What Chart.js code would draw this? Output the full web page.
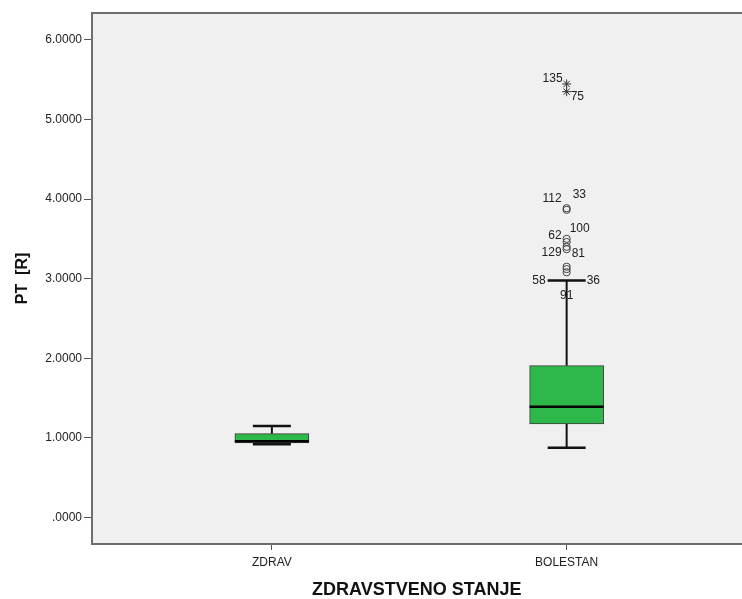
<!DOCTYPE html>
<html><head><meta charset="utf-8">
<script src="https://cdn.jsdelivr.net/npm/chart.js@4"></script>
<style>
html,body{margin:0;padding:0;background:#fff;overflow:hidden;width:742px;height:599px}
canvas{display:block}
</style>
</head><body><canvas id="c" width="747" height="599"></canvas>
<script>
// ---- data ----
const categories = ['ZDRAV', 'BOLESTAN'];
const whiskerLow  = [0.918, 0.875];
const q1          = [0.934, 1.173];
const median      = [0.955, 1.390];
const q3          = [1.051, 1.906];
const whiskerHigh = [1.148, 2.975];

const outlierIds      = ['58', '36', '91', '129', '81', '62', '100', '112', '33'];
const outlierCategory = [1, 1, 1, 1, 1, 1, 1, 1, 1];
const outlierValues   = [3.15, 3.12, 3.08, 3.40, 3.37, 3.46, 3.50, 3.865, 3.885];

const extremeIds      = ['135', '75'];
const extremeCategory = [1, 1];
const extremeValues   = [5.447, 5.350];

const yTickValues = [0, 1, 2, 3, 4, 5, 6];

// ---- label placement (style only: pixel offsets from the point) ----
const labelPlacement = {
  '135': [-4, -5, 'right'], '75': [4, 5, 'left'],
  '112': [-5, -11, 'right'], '33': [6, -14, 'left'],
  '100': [3, -10, 'left'], '62': [-5, -6, 'right'],
  '129': [-5, 6, 'right'], '81': [5, 4, 'left'],
  '58': [-21, 14, 'right'], '36': [20, 12, 'left'],
  '91': [0, 23, 'center']
};

const GREEN = '#2eb84a';
const FONT = "'Liberation Sans', Arial, sans-serif";

const boxPlugin = {
  id: 'boxExtras',
  beforeDraw(chart) {
    const {ctx, chartArea: a} = chart;
    ctx.save();
    ctx.fillStyle = '#f0f0f0';
    ctx.fillRect(a.left, a.top, chart.width - a.left, a.bottom - a.top);
    ctx.restore();
  },
  beforeDatasetsDraw(chart) {
    const {ctx, scales: {x, y}} = chart;
    ctx.save();
    ctx.strokeStyle = '#111';
    categories.forEach((c, i) => {
      const px = x.getPixelForValue(i);
      ctx.lineWidth = 2;
      ctx.beginPath();
      ctx.moveTo(px, y.getPixelForValue(q3[i]));
      ctx.lineTo(px, y.getPixelForValue(whiskerHigh[i]));
      ctx.moveTo(px, y.getPixelForValue(q1[i]));
      ctx.lineTo(px, y.getPixelForValue(whiskerLow[i]));
      ctx.stroke();
      ctx.lineWidth = 2.5;
      ctx.beginPath();
      [whiskerHigh[i], whiskerLow[i]].forEach(v => {
        const py = y.getPixelForValue(v);
        ctx.moveTo(px - 19, py);
        ctx.lineTo(px + 19, py);
      });
      ctx.stroke();
    });
    ctx.restore();
  },
  afterDatasetsDraw(chart) {
    const {ctx, chartArea: a, scales: {x, y}} = chart;
    const meta = chart.getDatasetMeta(0);
    ctx.save();
    // medians
    ctx.strokeStyle = '#000';
    ctx.lineWidth = 2.5;
    categories.forEach((c, i) => {
      const bar = meta.data[i];
      const half = bar.width / 2;
      const py = y.getPixelForValue(median[i]);
      ctx.beginPath();
      ctx.moveTo(bar.x - half, py);
      ctx.lineTo(bar.x + half, py);
      ctx.stroke();
    });
    // outlier labels
    ctx.fillStyle = '#222';
    ctx.font = '12px ' + FONT;
    ctx.textBaseline = 'middle';
    const drawLabels = (ids, cats, vals) => {
      ids.forEach((id, k) => {
        const [dx, dy, al] = labelPlacement[id];
        ctx.textAlign = al;
        ctx.fillText(id, x.getPixelForValue(cats[k]) + dx, y.getPixelForValue(vals[k]) + dy);
      });
    };
    drawLabels(outlierIds, outlierCategory, outlierValues);
    drawLabels(extremeIds, extremeCategory, extremeValues);
    // top frame line
    ctx.strokeStyle = '#6e6e6e';
    ctx.lineWidth = 2;
    ctx.beginPath();
    ctx.moveTo(a.left, a.top);
    ctx.lineTo(chart.width, a.top);
    ctx.moveTo(a.left, a.bottom);
    ctx.lineTo(chart.width, a.bottom);
    ctx.stroke();
    ctx.restore();
  }
};

new Chart(document.getElementById('c'), {
  type: 'bar',
  data: {
    datasets: [
      {
        type: 'bar',
        data: categories.map((c, i) => ({x: i, y: [q1[i], q3[i]]})),
        backgroundColor: GREEN,
        borderColor: '#3c3c3c',
        borderWidth: 1,
        borderSkipped: false,
        barThickness: 74,
        grouped: false
      },
      {
        type: 'scatter',
        data: outlierValues.map((v, k) => ({x: outlierCategory[k], y: v})),
        pointStyle: 'circle',
        pointRadius: 3.6,
        borderColor: '#444',
        backgroundColor: 'rgba(0,0,0,0)',
        borderWidth: 1
      },
      {
        type: 'scatter',
        data: extremeValues.map((v, k) => ({x: extremeCategory[k], y: v})),
        pointStyle: 'star',
        pointRadius: 4.5,
        borderColor: '#333',
        borderWidth: 1
      }
    ]
  },
  options: {
    responsive: false,
    maintainAspectRatio: false,
    animation: false,
    events: [],
    layout: {padding: {top: 13, left: 0, right: 0, bottom: 0}},
    plugins: {legend: {display: false}, tooltip: {enabled: false}},
    scales: {
      x: {
        type: 'linear',
        min: -0.6102, max: 1.5932,
        offset: false,
        grid: {display: true, drawOnChartArea: false, drawTicks: true, tickLength: 6, color: '#555', offset: false},
        border: {display: true, color: '#6e6e6e', width: 2},
        afterBuildTicks: s => { s.ticks = categories.map((c, i) => ({value: i})); },
        ticks: {
          callback: v => categories[v] ?? '',
          color: '#222', font: {family: FONT, size: 12}, padding: 5, maxRotation: 0, autoSkip: false
        },
        title: {display: true, text: 'ZDRAVSTVENO STANJE', color: '#111',
                font: {family: FONT, size: 18, weight: 'bold'}, padding: {top: 0, bottom: -2}},
        afterFit: s => { s.height = 55; }
      },
      y: {
        type: 'linear',
        min: -0.3356, max: 6.339,
        grid: {display: true, drawOnChartArea: false, drawTicks: true, tickLength: 8, color: '#555'},
        border: {display: true, color: '#6e6e6e', width: 2},
        afterBuildTicks: s => { s.ticks = yTickValues.map(v => ({value: v})); },
        ticks: {
          callback: v => v === 0 ? '.0000' : v.toFixed(4),
          color: '#222', font: {family: FONT, size: 12}, padding: 2
        },
        title: {display: true, text: 'PT  [R]', color: '#111',
                font: {family: FONT, size: 16, weight: 'bold'}, padding: {top: 13, bottom: 0}},
        afterFit: s => { s.width = 92; }
      }
    }
  },
  plugins: [boxPlugin]
});
</script>
</body></html>
